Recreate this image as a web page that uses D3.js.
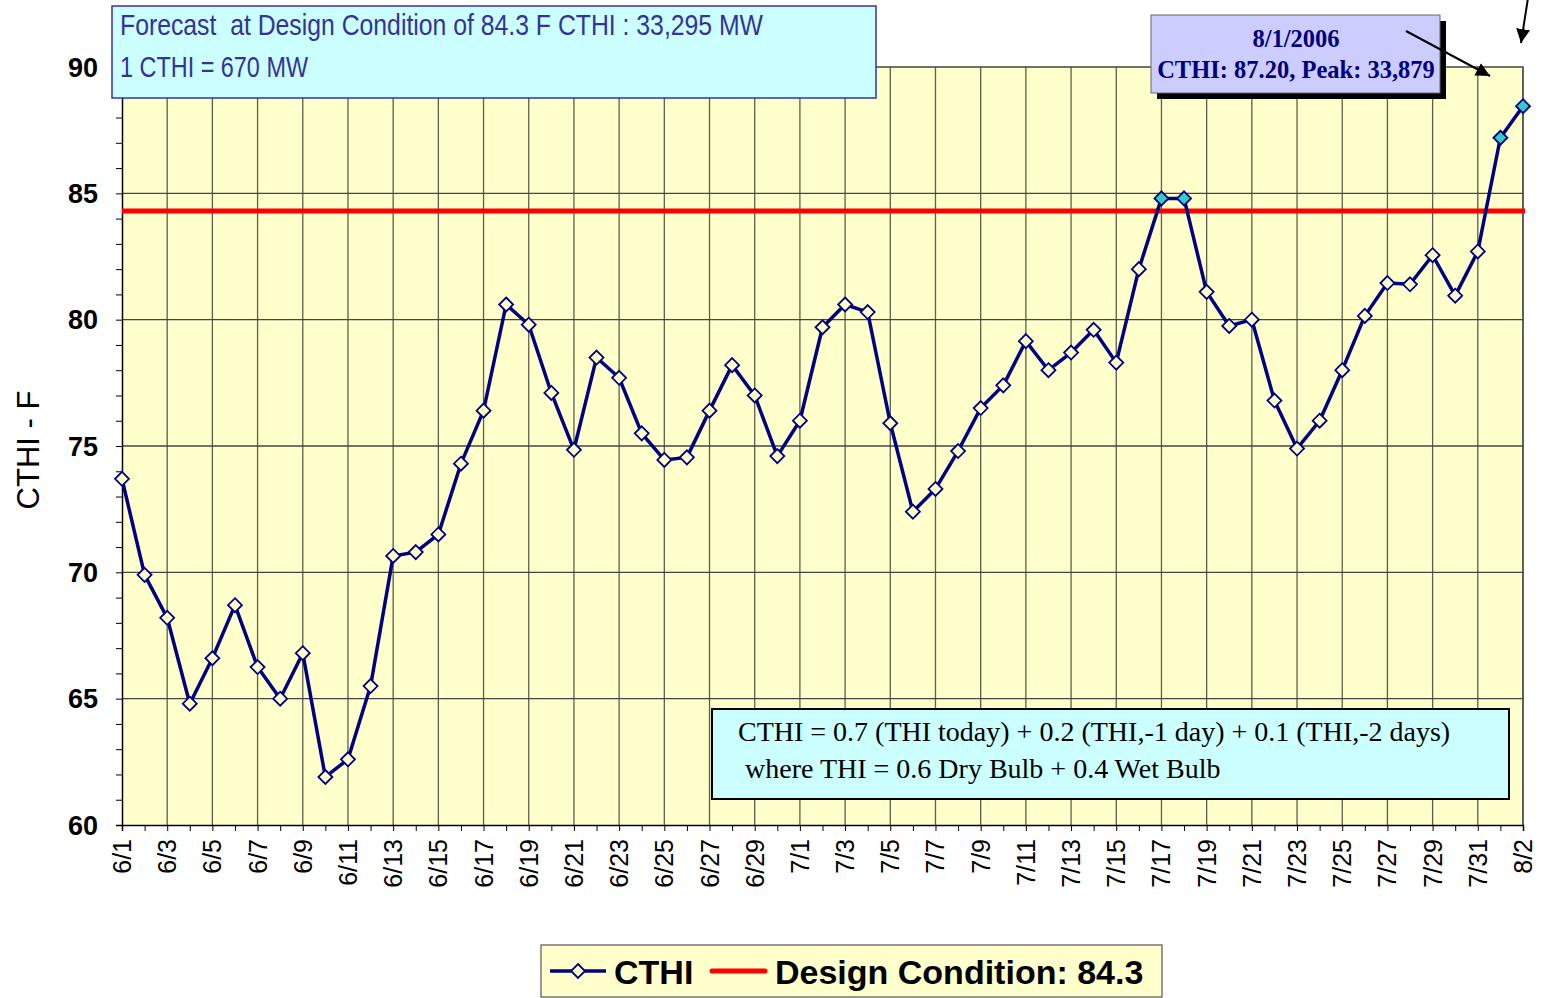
<!DOCTYPE html>
<html>
<head>
<meta charset="utf-8">
<script src="https://cdn.jsdelivr.net/npm/d3@7"></script>
<style>
html,body{margin:0;padding:0;background:#fff;}
svg{display:block;}
</style>
</head>
<body>
<svg id="chart" width="1543" height="998"></svg>
<script>
const dates = ["6/1","6/2","6/3","6/4","6/5","6/6","6/7","6/8","6/9","6/10","6/11","6/12","6/13","6/14","6/15","6/16","6/17","6/18","6/19","6/20","6/21","6/22","6/23","6/24","6/25","6/26","6/27","6/28","6/29","6/30",
"7/1","7/2","7/3","7/4","7/5","7/6","7/7","7/8","7/9","7/10","7/11","7/12","7/13","7/14","7/15","7/16","7/17","7/18","7/19","7/20","7/21","7/22","7/23","7/24","7/25","7/26","7/27","7/28","7/29","7/30","7/31","8/1","8/2"];
const cthi = [73.7,69.9,68.2,64.8,66.6,68.7,66.25,65.0,66.8,61.9,62.6,65.5,70.65,70.8,71.5,74.3,76.4,80.6,79.8,77.1,74.85,78.5,77.7,75.5,74.45,74.55,76.4,78.2,77.0,74.6,
76.0,79.7,80.6,80.3,75.9,72.4,73.3,74.8,76.5,77.4,79.15,78.0,78.7,79.6,78.3,82.0,84.8,84.8,81.1,79.75,80.0,76.8,74.9,76.0,78.0,80.15,81.45,81.4,82.55,80.95,82.7,87.2,88.45];
const highlighted = ["7/17","7/18","8/1","8/2"];
const designCondition = 84.3;
const yTicks = [60,65,70,75,80,85,90];
const infoLines = ["Forecast  at Design Condition of 84.3 F CTHI : 33,295 MW","1 CTHI = 670 MW"];
const calloutLines = ["8/1/2006","CTHI: 87.20, Peak: 33,879"];
const formulaLines = ["CTHI = 0.7 (THI today) + 0.2 (THI,-1 day) + 0.1 (THI,-2 days)"," where THI = 0.6 Dry Bulb + 0.4 Wet Bulb"];
const legendLabels = ["CTHI","Design Condition: 84.3"];

const svg = d3.select("#chart");
const L = 122, R = 1523, T = 67, B = 825;
const x = d3.scalePoint().domain(dates).range([L, R]);
const y = d3.scaleLinear().domain([60, 90]).range([B, T]);

// plot background
svg.append("rect").attr("x", L).attr("y", T).attr("width", R - L).attr("height", B - T).attr("fill", "#FFFFCC");

// vertical gridlines every two days
const labelDates = dates.filter((d, i) => i % 2 === 0);
svg.append("g").selectAll("line").data(labelDates.slice(1)).join("line")
  .attr("x1", d => x(d)).attr("x2", d => x(d)).attr("y1", T).attr("y2", B)
  .attr("stroke", "#5e5e4c").attr("stroke-width", 1.3);
// horizontal gridlines
svg.append("g").selectAll("line").data(yTicks.filter(v => v > 60 && v < 90)).join("line")
  .attr("x1", L).attr("x2", R).attr("y1", d => y(d)).attr("y2", d => y(d))
  .attr("stroke", "#444").attr("stroke-width", 1.3);
// top and right border
svg.append("path").attr("d", `M${L},${T}H${R}V${B}`).attr("fill", "none").attr("stroke", "#444").attr("stroke-width", 1.3);

// y axis
const yAxis = svg.append("g").attr("transform", `translate(${L},0)`)
  .call(d3.axisLeft(y).tickValues(d3.range(60, 91, 1)).tickSize(6).tickFormat(""));
yAxis.select(".domain").attr("stroke", "#000").attr("stroke-width", 1.5);
yAxis.selectAll(".tick line").attr("stroke", "#000");
svg.append("g").selectAll("text").data(yTicks).join("text")
  .attr("x", 98).attr("y", d => y(d)).attr("dy", "0.36em")
  .attr("text-anchor", "end").attr("font-family", "Liberation Sans, Arial, sans-serif")
  .attr("font-weight", "bold").attr("font-size", 27).attr("fill", "#000").text(d => d);

// x axis
const xAxis = svg.append("g").attr("transform", `translate(0,${B})`)
  .call(d3.axisBottom(x).tickSize(6).tickFormat(""));
xAxis.select(".domain").attr("stroke", "#000").attr("stroke-width", 1.5);
xAxis.selectAll(".tick line").attr("stroke", "#000");
svg.append("g").selectAll("text").data(labelDates).join("text")
  .attr("transform", d => `translate(${x(d) + 9},839) rotate(-90)`)
  .attr("text-anchor", "end").attr("font-family", "Liberation Sans, Arial, sans-serif")
  .attr("font-size", 25).attr("fill", "#000").text(d => d);

// y title
svg.append("text").attr("transform", "translate(39,450) rotate(-90)")
  .attr("text-anchor", "middle").attr("font-family", "Liberation Sans, Arial, sans-serif")
  .attr("font-size", 31).attr("fill", "#000").text("CTHI - F");

// design condition line
svg.append("line").attr("x1", L).attr("x2", R + 2).attr("y1", y(designCondition)).attr("y2", y(designCondition))
  .attr("stroke", "#FF0000").attr("stroke-width", 5);

// CTHI line
const line = d3.line().x((d, i) => x(dates[i])).y(d => y(d));
svg.append("path").datum(cthi).attr("d", line).attr("fill", "none")
  .attr("stroke", "#000080").attr("stroke-width", 3.5).attr("stroke-linejoin", "round");
const diamond = s => `M0,${-s}L${s},0L0,${s}L${-s},0Z`;
svg.append("g").selectAll("path").data(cthi).join("path")
  .attr("transform", (d, i) => `translate(${x(dates[i])},${y(d)})`)
  .attr("d", diamond(7))
  .attr("fill", (d, i) => highlighted.includes(dates[i]) ? "#33CCCC" : "#FFFFCC")
  .attr("stroke", "#000080").attr("stroke-width", 1.8);

// info box top-left
svg.append("rect").attr("x", 112).attr("y", 6).attr("width", 764).attr("height", 92)
  .attr("fill", "#CCFFFF").attr("stroke", "#3333AA").attr("stroke-width", 1.5);
const infoLen = [643, 188];
svg.append("g").selectAll("text").data(infoLines).join("text")
  .attr("x", 120).attr("y", (d, i) => 35 + i * 42)
  .attr("font-family", "Liberation Sans Narrow, Arial Narrow, sans-serif")
  .attr("font-size", 30).attr("fill", "#333399")
  .attr("textLength", (d, i) => infoLen[i]).attr("lengthAdjust", "spacingAndGlyphs")
  .style("white-space", "pre").text(d => d);

// callout box
svg.append("rect").attr("x", 1157).attr("y", 21).attr("width", 289).attr("height", 78).attr("fill", "#000");
svg.append("rect").attr("x", 1151).attr("y", 15).attr("width", 289).attr("height", 78)
  .attr("fill", "#CCCCFF").attr("stroke", "#666").attr("stroke-width", 1);
svg.append("g").selectAll("text").data(calloutLines).join("text")
  .attr("x", 1296).attr("y", (d, i) => 47 + i * 31).attr("text-anchor", "middle")
  .attr("font-family", "Liberation Serif, Times New Roman, serif").attr("font-weight", "bold")
  .attr("font-size", 24.5).attr("fill", "#000080").text(d => d);

// arrows
const defs = svg.append("defs");
defs.append("marker").attr("id", "ah").attr("viewBox", "0 0 10 10").attr("refX", 10).attr("refY", 5)
  .attr("markerWidth", 7).attr("markerHeight", 7).attr("orient", "auto")
  .append("path").attr("d", "M0,0L10,5L0,10Z").attr("fill", "#000");
svg.append("line").attr("x1", 1406).attr("y1", 31).attr("x2", 1490).attr("y2", 76)
  .attr("stroke", "#000").attr("stroke-width", 2).attr("marker-end", "url(#ah)");
svg.append("line").attr("x1", 1528).attr("y1", -2).attr("x2", 1521).attr("y2", 43)
  .attr("stroke", "#000").attr("stroke-width", 2).attr("marker-end", "url(#ah)");

// formula box
svg.append("rect").attr("x", 712).attr("y", 709).attr("width", 797).attr("height", 90)
  .attr("fill", "#CCFFFF").attr("stroke", "#000").attr("stroke-width", 2);
svg.append("g").selectAll("text").data(formulaLines).join("text")
  .attr("x", 738).attr("y", (d, i) => 741 + i * 37)
  .attr("font-family", "Liberation Serif, Times New Roman, serif")
  .attr("font-size", 28).attr("fill", "#000").style("white-space", "pre").text(d => d);

// legend
const lg = svg.append("g");
lg.append("rect").attr("x", 541).attr("y", 945).attr("width", 621).attr("height", 52)
  .attr("fill", "#FFFFCC").attr("stroke", "#555").attr("stroke-width", 1.2);
lg.append("line").attr("x1", 550).attr("x2", 606).attr("y1", 971).attr("y2", 971)
  .attr("stroke", "#000080").attr("stroke-width", 3.5);
lg.append("path").attr("transform", "translate(578,971)").attr("d", diamond(7))
  .attr("fill", "#FFFFCC").attr("stroke", "#000080").attr("stroke-width", 1.8);
lg.append("line").attr("x1", 712).attr("x2", 765).attr("y1", 971).attr("y2", 971)
  .attr("stroke", "#FF0000").attr("stroke-width", 5).attr("stroke-linecap", "round");
lg.selectAll("text.lab").data(legendLabels).join("text").attr("class", "lab")
  .attr("x", (d, i) => i === 0 ? 614 : 775).attr("y", 984)
  .attr("font-family", "Liberation Sans, Arial, sans-serif").attr("font-weight", "bold")
  .attr("font-size", 34).attr("fill", "#000").text(d => d);
</script>
</body>
</html>
